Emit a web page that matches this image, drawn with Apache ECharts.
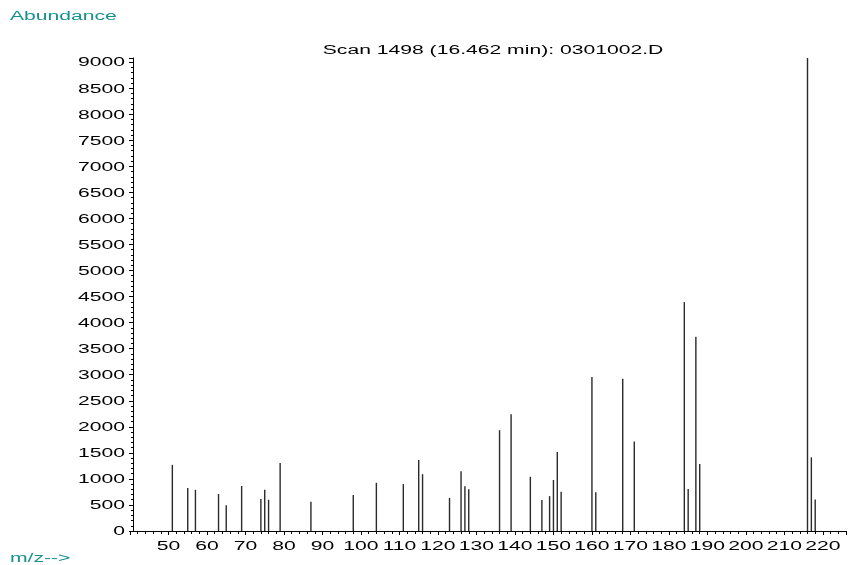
<!DOCTYPE html>
<html>
<head>
<meta charset="utf-8">
<script src="https://cdn.jsdelivr.net/npm/echarts@6/dist/echarts.min.js"></script>
<style>
html,body{margin:0;padding:0;background:#fff;}
#chart{width:848px;height:565px;}
</style>
</head>
<body>
<div id="chart"></div>
<script>
// ---- data ----
const mzValues = [51, 55, 57, 63, 65, 69, 74, 75, 76, 79, 87, 98, 104, 111, 115, 116, 123, 126, 127, 128,
  136, 139, 144, 147, 149, 150, 151, 152, 160, 161, 168, 171, 184, 185, 187, 188, 216, 217, 218];
const abundanceValues = [1270, 825, 790, 710, 495, 865, 615, 790, 600, 1305, 560, 690, 925, 900, 1365, 1090, 635, 1145, 860, 800,
  1935, 2240, 1040, 595, 670, 980, 1515, 755, 2955, 745, 2925, 1720, 4395, 805, 3730, 1285, 9080, 1415, 605];
const xTickLabels = [50, 60, 70, 80, 90, 100, 110, 120, 130, 140, 150, 160, 170, 180, 190, 200, 210, 220];
const yTickLabels = [0, 500, 1000, 1500, 2000, 2500, 3000, 3500, 4000, 4500, 5000, 5500, 6000, 6500, 7000, 7500, 8000, 8500, 9000];
const titleText = 'Scan 1498 (16.462 min): 0301002.D';
const yAxisTitle = 'Abundance';
const xAxisTitle = 'm/z-->';

// ---- chart ----
const X_MIN = 40, X_MAX = 226, Y_MIN = 0, Y_MAX = 9080;
const FONT = '12px "Liberation Sans", Arial, Helvetica, sans-serif';
const SX = 1.76;
const TEAL = '#17908f';
const Y_AXIS_SHIFT = 3;

const peaks = mzValues.map((m, i) => [m, abundanceValues[i]]);

function txt(x, y, text, align, vAlign, color) {
  return {
    type: 'text', x: x, y: y, scaleX: SX, silent: true,
    style: {
      text: text, x: 0, y: 0, font: FONT, fill: color || '#000',
      align: align, verticalAlign: vAlign,
      textAlign: align, textVerticalAlign: vAlign
    }
  };
}

const chart = echarts.init(document.getElementById('chart'), null, {renderer: 'canvas'});
chart.setOption({
  animation: false,
  backgroundColor: '#fff',
  grid: {left: 130, right: 2, top: 58, bottom: 34, containLabel: false},
  xAxis: {
    type: 'value', min: X_MIN, max: X_MAX, interval: 10,
    axisLine: {show: true, lineStyle: {color: '#000', width: 1}},
    axisTick: {show: true, inside: false, length: 4, lineStyle: {color: '#000'}},
    minorTick: {show: true, splitNumber: 5, length: 3, lineStyle: {color: '#000'}},
    axisLabel: {show: false},
    splitLine: {show: false}, minorSplitLine: {show: false}
  },
  yAxis: {
    type: 'value', min: Y_MIN, max: Y_MAX, interval: 500, offset: -Y_AXIS_SHIFT,
    axisLine: {show: true, lineStyle: {color: '#000', width: 1}},
    axisTick: {show: true, inside: false, length: 4, lineStyle: {color: '#000'}},
    minorTick: {show: true, splitNumber: 5, length: 2, lineStyle: {color: '#000'}},
    axisLabel: {show: false},
    splitLine: {show: false}, minorSplitLine: {show: false}
  },
  graphic: [
    txt(10, 17, yAxisTitle, 'left', 'middle', TEAL),
    txt(10, 559, xAxisTitle, 'left', 'middle', TEAL),
    txt(493, 51, titleText, 'center', 'middle', '#000')
  ],
  series: [
    {
      type: 'bar', data: peaks, barWidth: 1.4, silent: true,
      itemStyle: {color: '#2a2a2a'}
    },
    {
      type: 'custom', coordinateSystem: 'cartesian2d', clip: false, silent: true,
      data: yTickLabels.map(v => [X_MIN, v]),
      renderItem: function (params, api) {
        const p = api.coord([api.value(0), api.value(1)]);
        return txt(p[0] + Y_AXIS_SHIFT - 8, p[1] + 1, String(api.value(1)), 'right', 'middle', '#000');
      }
    },
    {
      type: 'custom', coordinateSystem: 'cartesian2d', clip: false, silent: true,
      data: xTickLabels.map(v => [v, Y_MIN]),
      renderItem: function (params, api) {
        const p = api.coord([api.value(0), api.value(1)]);
        return txt(p[0], p[1] + 16, String(api.value(0)), 'center', 'middle', '#000');
      }
    }
  ]
});
</script>
</body>
</html>
